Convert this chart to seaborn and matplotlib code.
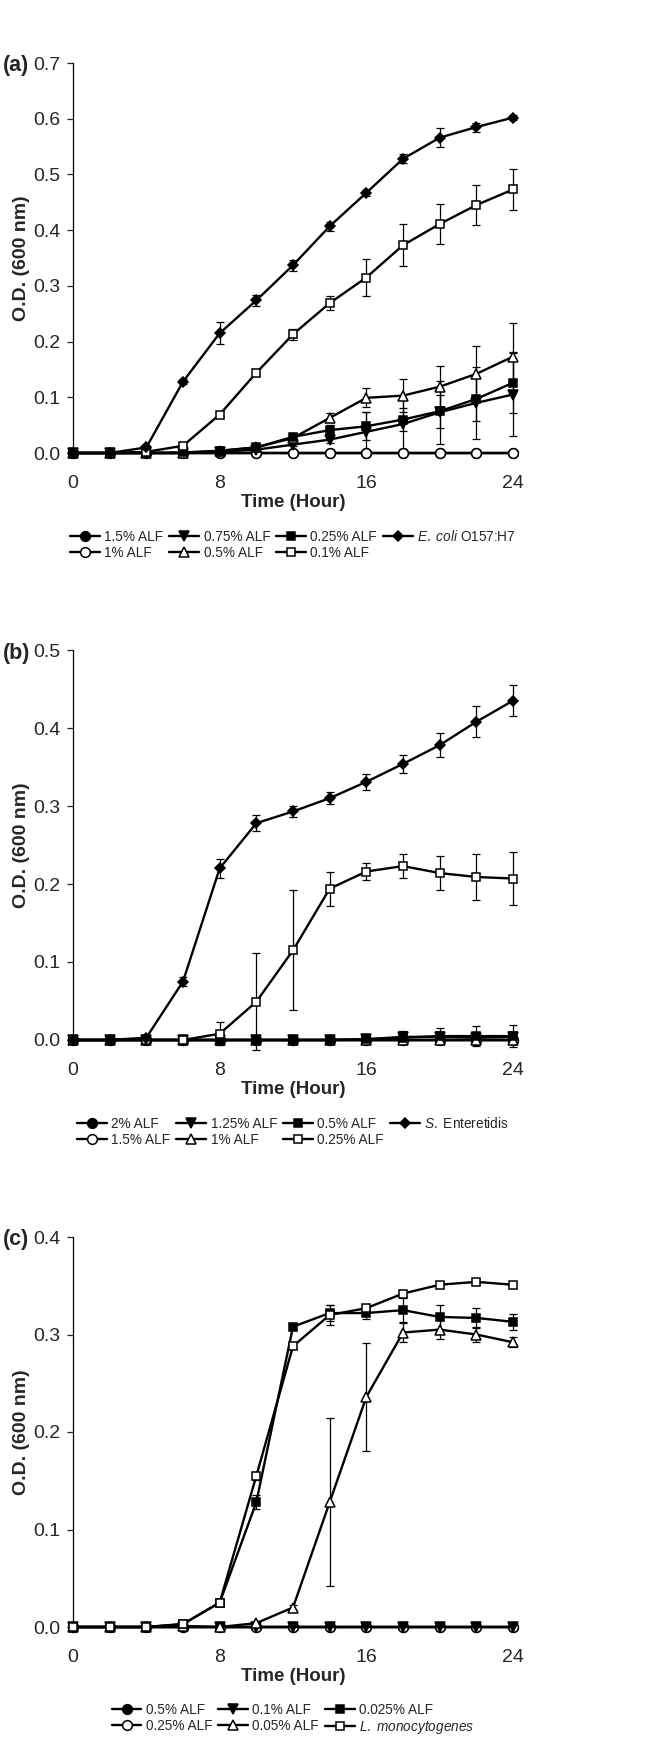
"""Growth curves of three pathogens under ALF treatment (three stacked panels)."""

import matplotlib

matplotlib.use("Agg")

import matplotlib.pyplot as plt
import numpy as np
import pandas as pd
import seaborn as sns
from matplotlib import font_manager

HOURS = [0, 2, 4, 6, 8, 10, 12, 14, 16, 18, 20, 22, 24]
ZERO = [0.0] * 13

# ---- panel (a): E. coli O157:H7 ----
A_LABELS = ["1.5% ALF", "1% ALF", "0.75% ALF", "0.5% ALF", "0.25% ALF", "0.1% ALF",
            r"$\it{E.\ coli}$ O157:H7"]
A_MARKERS = ["o", "o", "v", "^", "s", "s", "D"]
A_FILLED = [True, False, True, False, True, False, True]
A_VALUES = [
    ZERO,
    ZERO,
    [0, 0, 0, 0, 0.002, 0.006, 0.015, 0.024, 0.038, 0.052, 0.073, 0.090, 0.105],
    [0, 0, 0, 0, 0.004, 0.010, 0.027, 0.063, 0.099, 0.103, 0.119, 0.142, 0.173],
    [0, 0, 0, 0.001, 0.004, 0.010, 0.029, 0.041, 0.048, 0.060, 0.075, 0.097, 0.126],
    [0, 0, 0.002, 0.013, 0.069, 0.144, 0.213, 0.269, 0.315, 0.373, 0.411, 0.445, 0.473],
    [0, 0, 0.010, 0.128, 0.215, 0.274, 0.337, 0.407, 0.467, 0.528, 0.566, 0.585, 0.602],
]
A_ERRORS = [
    ZERO,
    ZERO,
    [0, 0, 0, 0, 0, 0.002, 0.003, 0.006, 0.035, 0.045, 0.056, 0.065, 0.075],
    [0, 0, 0, 0, 0, 0.002, 0.004, 0.008, 0.017, 0.030, 0.037, 0.050, 0.060],
    [0, 0, 0, 0, 0, 0.002, 0.004, 0.010, 0.025, 0.020, 0.030, 0.040, 0.055],
    [0, 0, 0, 0.002, 0.005, 0.006, 0.010, 0.012, 0.033, 0.038, 0.036, 0.036, 0.037],
    [0, 0, 0.002, 0.004, 0.020, 0.010, 0.010, 0.008, 0.005, 0.008, 0.017, 0.008, 0.005],
]

# ---- panel (b): S. Enteritidis ----
B_LABELS = ["2% ALF", "1.5% ALF", "1.25% ALF", "1% ALF", "0.5% ALF", "0.25% ALF",
            r"$\it{S.}$ Enteretidis"]
B_MARKERS = ["o", "o", "v", "^", "s", "s", "D"]
B_FILLED = [True, False, True, False, True, False, True]
B_VALUES = [
    ZERO,
    ZERO,
    [0, 0, 0, 0, 0, 0, 0, 0, 0.001, 0.004, 0.004, 0.003, 0.004],
    ZERO,
    [0, 0, 0, 0, 0, 0, 0, 0, 0.001, 0.003, 0.005, 0.005, 0.005],
    [0, 0, 0, 0, 0.008, 0.049, 0.115, 0.194, 0.216, 0.223, 0.214, 0.209, 0.207],
    [0, 0, 0.003, 0.075, 0.220, 0.278, 0.293, 0.310, 0.331, 0.354, 0.378, 0.408, 0.435],
]
B_ERRORS = [
    ZERO,
    ZERO,
    [0, 0, 0, 0, 0, 0, 0, 0, 0.002, 0.007, 0.006, 0.005, 0.006],
    ZERO,
    [0, 0, 0, 0, 0, 0, 0, 0, 0.003, 0.007, 0.010, 0.013, 0.014],
    [0, 0, 0, 0, 0.015, 0.062, 0.077, 0.022, 0.011, 0.015, 0.022, 0.030, 0.034],
    [0, 0, 0.002, 0.006, 0.012, 0.010, 0.007, 0.008, 0.010, 0.012, 0.015, 0.020, 0.020],
]

# ---- panel (c): L. monocytogenes ----
C_LABELS = ["0.5% ALF", "0.25% ALF", "0.1% ALF", "0.05% ALF", "0.025% ALF",
            r"$\it{L.\ monocytogenes}$"]
C_MARKERS = ["o", "o", "v", "^", "s", "s"]
C_FILLED = [True, False, True, False, True, False]
C_VALUES = [
    ZERO,
    ZERO,
    ZERO,
    [0, 0, 0, 0.001, 0, 0.004, 0.020, 0.128, 0.236, 0.302, 0.305, 0.300, 0.292],
    [0, 0, 0, 0.003, 0.025, 0.128, 0.308, 0.322, 0.322, 0.325, 0.318, 0.317, 0.313],
    [0, 0, 0, 0.003, 0.025, 0.155, 0.288, 0.320, 0.327, 0.342, 0.351, 0.354, 0.351],
]
C_ERRORS = [
    ZERO,
    ZERO,
    ZERO,
    [0, 0, 0, 0, 0, 0.002, 0.003, 0.086, 0.055, 0.010, 0.010, 0.008, 0.005],
    [0, 0, 0, 0, 0.002, 0.007, 0.003, 0.008, 0.006, 0.012, 0.012, 0.010, 0.008],
    [0, 0, 0, 0, 0.002, 0.004, 0.003, 0.010, 0.003, 0.003, 0.003, 0.003, 0.003],
]

PANELS = [
    ("(a)", A_LABELS, A_MARKERS, A_FILLED, A_VALUES, A_ERRORS, 0.7, 4),
    ("(b)", B_LABELS, B_MARKERS, B_FILLED, B_VALUES, B_ERRORS, 0.5, 4),
    ("(c)", C_LABELS, C_MARKERS, C_FILLED, C_VALUES, C_ERRORS, 0.4, 3),
]

W, H = 646, 1738
AX_LEFT, AX_RIGHT = 73, 513
AX_BOTTOMS = [453, 1040, 1627]
AX_HEIGHT = 390

MARKER_SIZE = {"o": 7, "v": 7, "^": 7, "s": 6, "D": 5.5}


def _apply_style() -> str:
    sns.set_theme(style="white")
    names = {f.name for f in font_manager.fontManager.ttflist}
    family = "Liberation Sans" if "Liberation Sans" in names else "DejaVu Sans"
    plt.rcParams.update(
        {
            "font.family": [family, "DejaVu Sans"],
            "mathtext.fontset": "custom",
            "mathtext.rm": family,
            "mathtext.it": f"{family}:italic",
            "axes.linewidth": 0.9,
            "axes.edgecolor": "black",
        }
    )
    narrow = "Liberation Sans Narrow"
    return narrow if narrow in names else family


def _plot_panel(fig, ax, tag, labels, markers, filled, values, errors, ymax, ncol,
                legend_font):
    for label, mk, fill, vals, errs in zip(labels, markers, filled, values, errors):
        df = pd.DataFrame({"hour": HOURS, "od": vals})
        ax.errorbar(
            HOURS, vals, yerr=errs, fmt="none", ecolor="black",
            elinewidth=0.9, capsize=2.6, capthick=0.9, clip_on=False, zorder=2,
        )
        sns.lineplot(
            data=df, x="hour", y="od", ax=ax, color="black", linewidth=1.7,
            marker=mk, markersize=MARKER_SIZE[mk],
            markerfacecolor="black" if fill else "white",
            markeredgecolor="black", markeredgewidth=1.1,
            label=label, clip_on=False, zorder=3,
        )

    ax.set_xlim(0, 24)
    ax.set_ylim(0, ymax)
    ax.set_xticks([0, 8, 16, 24])
    ax.set_yticks(np.round(np.arange(0, ymax + 0.001, 0.1), 1))
    ax.yaxis.set_major_formatter(matplotlib.ticker.FormatStrFormatter("%.1f"))
    ax.tick_params(axis="y", direction="out", length=4, width=0.9, pad=5,
                   labelsize=14, left=True)
    ax.tick_params(axis="x", length=0, pad=15.5, labelsize=14)
    ax.set_xlabel("Time (Hour)", fontsize=13.5, fontweight="bold", labelpad=2)
    ax.set_ylabel("O.D. (600 nm)", fontsize=14, fontweight="bold", labelpad=2)
    sns.despine(ax=ax)

    ax.legend(
        loc="upper center", bbox_to_anchor=(0.5, -0.18), ncol=ncol,
        frameon=False, prop={"family": legend_font, "size": 9.8},
        handlelength=2.2, handletextpad=0.3, columnspacing=0.45,
        labelspacing=0.15, borderaxespad=0,
    )
    # panel tag at the very left edge of the figure, level with the top tick
    y_top = ax.get_position().y1
    fig.text(3 / W, y_top - 3 / H, tag, fontsize=15.5, fontweight="bold",
             ha="left", va="center")


def main() -> None:
    legend_font = _apply_style()
    fig = plt.figure(figsize=(W / 100, H / 100), dpi=100)
    for bottom_px, panel in zip(AX_BOTTOMS, PANELS):
        ax = fig.add_axes(
            [AX_LEFT / W, 1 - bottom_px / H, (AX_RIGHT - AX_LEFT) / W, AX_HEIGHT / H]
        )
        _plot_panel(fig, ax, *panel, legend_font)
    fig.savefig("out.png", dpi=100, facecolor="white")
    plt.close(fig)


main()
